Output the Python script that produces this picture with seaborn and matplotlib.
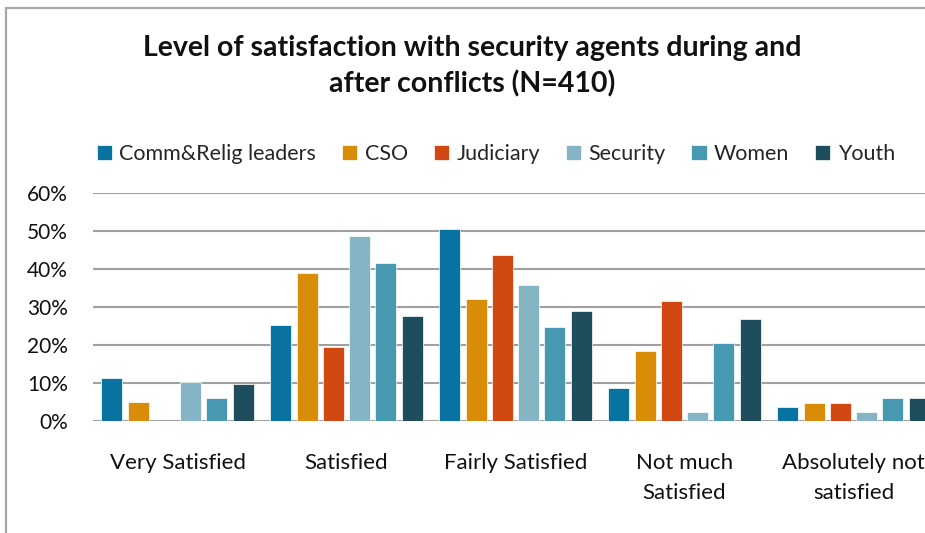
import matplotlib
matplotlib.use("Agg")
import matplotlib.pyplot as plt
import seaborn as sns
import pandas as pd
from matplotlib.patches import Rectangle

categories = ["Very Satisfied", "Satisfied", "Fairly Satisfied", "Not much\nSatisfied", "Absolutely not\nsatisfied"]
groups = ["Comm&Relig leaders", "CSO", "Judiciary", "Security", "Women", "Youth"]
comm = [11.2, 25.2, 50.7, 8.6, 3.6]
cso = [5.0, 38.9, 32.1, 18.4, 4.8]
judiciary = [0.0, 19.4, 43.8, 31.5, 4.7]
security = [10.3, 48.7, 35.8, 2.4, 2.4]
women = [6.1, 41.6, 24.9, 20.6, 6.1]
youth = [9.7, 27.7, 29.1, 27.0, 6.1]
y_ticks = [0, 10, 20, 30, 40, 50, 60]
y_tick_labels = ["0%", "10%", "20%", "30%", "40%", "50%", "60%"]
title = "Level of satisfaction with security agents during and\nafter conflicts (N=410)"

colors = ["#0873A1", "#D88C07", "#D24813", "#85B4C4", "#4699B1", "#1E4D5B"]

series = [comm, cso, judiciary, security, women, youth]
rows = []
for g, vals in zip(groups, series):
    for c, v in zip(categories, vals):
        rows.append({"category": c, "group": g, "value": v})
df = pd.DataFrame(rows)

sns.set_theme(style="white")
plt.rcParams["font.family"] = ["Lato", "DejaVu Sans"]

fig = plt.figure(figsize=(9.25, 5.33), dpi=100)
ax = fig.add_axes([93 / 925, (533 - 421) / 533, 845 / 925, 227.7 / 533])

sns.barplot(data=df, x="category", y="value", hue="group", order=categories,
            hue_order=groups, palette=colors, width=0.934, gap=0.2,
            edgecolor="white", linewidth=0.5, saturation=1, ax=ax)

ax.set_xlim(-0.5, 4.5)
ax.set_ylim(0, 60)
ax.set_yticks(y_ticks)
ax.set_yticklabels(y_tick_labels, fontsize=15, color="#111111")
ax.yaxis.grid(True, color="#a0a0a0", linewidth=1.5)
ax.set_axisbelow(True)
for s in ax.spines.values():
    s.set_visible(False)
ax.tick_params(axis="y", length=0, pad=18)
ax.tick_params(axis="x", length=0, pad=23)
ax.set_xticks(range(len(categories)))
ax.set_xticklabels(categories, fontsize=16, color="#111111", linespacing=1.6,
                   multialignment="center")
ax.set_xlabel("")
ax.set_ylabel("")

handles, labels = ax.get_legend_handles_labels()
ax.get_legend().remove()
fig.legend(handles, labels, loc="center", bbox_to_anchor=(496 / 925, 1 - 154 / 533),
           ncol=6, frameon=False, fontsize=15.5, handlelength=0.7, handleheight=0.7,
           handletextpad=0.35, columnspacing=1.2, borderaxespad=0)

fig.text(472 / 925, 1 - 66 / 533, title, ha="center", va="center", fontsize=20.5,
         fontweight="bold", linespacing=1.4, color="#111111")

fig.add_artist(Rectangle((5.5 / 925, -0.1), 1.2, 1.085, transform=fig.transFigure,
                         fill=False, edgecolor="#a8a8a8", linewidth=1.6))

fig.savefig("out.png", dpi=100)
